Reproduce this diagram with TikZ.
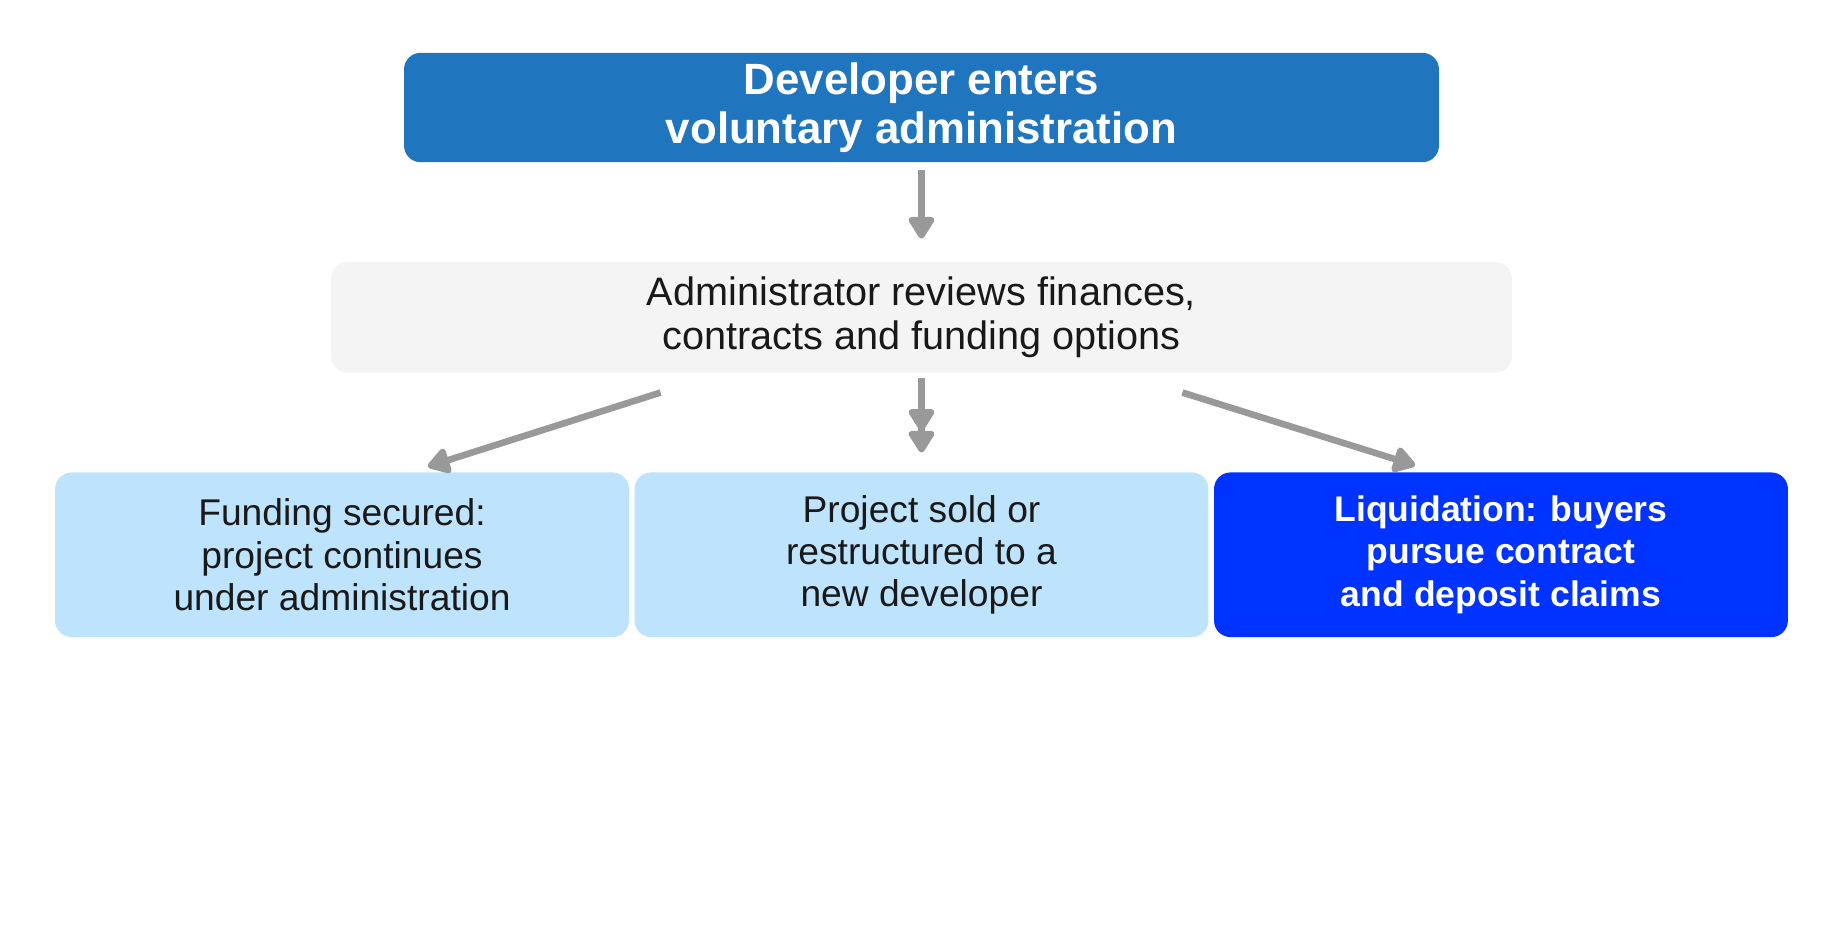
\documentclass[tikz,border=0pt]{standalone}
\usepackage{fontspec}
\setmainfont{Liberation Sans}
\usetikzlibrary{arrows.meta}

\definecolor{devblue}{HTML}{1F75BE}
\definecolor{adminbg}{HTML}{F4F4F4}
\definecolor{lightbox}{HTML}{BEE3FC}
\definecolor{liqblue}{HTML}{0033FF}
\definecolor{arrowgray}{HTML}{999999}

\begin{document}
\begin{tikzpicture}[x=0.01cm, y=-0.01cm,
    box/.style={rounded corners=4pt, inner sep=0pt, align=center},
    flow/.style={draw=arrowgray, line width=1.6pt, -{Triangle[length=6pt, width=7pt, round]}}]

    % Fix the page to the reference proportions
    \useasboundingbox (0,0) rectangle (1568,804);

    % Top box
    \node[box, fill=devblue, text=white, font=\bfseries\fontsize{10.6}{12}\selectfont,
          minimum width=8.8cm, minimum height=0.93cm] (dev) at (784,91.5)
          {Developer enters\\voluntary administration};

    % Middle box
    \node[box, fill=adminbg, text=black!90, font=\fontsize{9.6}{10.6}\selectfont,
          minimum width=10.04cm, minimum height=0.94cm] (admin) at (784,270)
          {Administrator reviews finances,\\contracts and funding options};

    % Three outcomes
    \node[box, fill=lightbox, text=black!90, font=\fontsize{9}{10.2}\selectfont,
          minimum width=4.88cm, minimum height=1.4cm] (fund) at (291,472)
          {Funding secured:\\project continues\\under administration};
    \node[box, fill=lightbox, text=black!90, font=\fontsize{9}{10.2}\selectfont,
          minimum width=4.88cm, minimum height=1.4cm] (sold) at (784,472)
          {Project sold or\\restructured to a\\new developer};
    \node[box, fill=liqblue, text=white, font=\bfseries\fontsize{8.6}{10.2}\selectfont,
          minimum width=4.88cm, minimum height=1.4cm] (liq) at (1277,472)
          {Liquidation: buyers\\pursue contract\\and deposit claims};

    % Arrow ends
    \coordinate (a1) at (784,145);
    \coordinate (a2) at (784,203);
    \coordinate (b1) at (562,334);
    \coordinate (b2) at (364,397);
    \coordinate (c1) at (784,322);
    \coordinate (c2) at (784,385);
    \coordinate (d1) at (1006,334);
    \coordinate (d2) at (1204,396);

    \draw[flow] (a1) -- (a2);
    \draw[flow] (b1) -- (b2);
    \draw[draw=arrowgray, line width=1.6pt,
          -{Triangle[length=6pt, width=7pt, round] Triangle[length=6pt, width=7pt, round]}] (c1) -- (c2);
    \draw[flow] (d1) -- (d2);

\end{tikzpicture}
\end{document}
